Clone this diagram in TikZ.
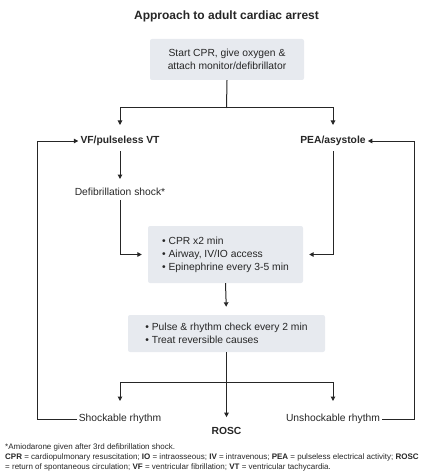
\documentclass[tikz,border=0pt]{standalone}
\usepackage{fontspec}
\setmainfont{Liberation Sans}
\usetikzlibrary{arrows.meta}
\definecolor{boxgray}{HTML}{E7EAEF}
\definecolor{inkgray}{HTML}{262626}

\begin{document}
\begin{tikzpicture}[x=1pt,y=-1pt,
	stepbox/.style={fill=boxgray, rounded corners=2pt, inner sep=0pt, text=inkgray},
	label/.style={inner sep=2pt, text=inkgray, font=\fontsize{10.3}{12}\selectfont},
	heading/.style={label, font=\bfseries\fontsize{10.3}{12}\selectfont},
	foot/.style={anchor=west, inner sep=0pt, text=inkgray, font=\fontsize{8}{9}\selectfont},
	arr/.style={-{Triangle[length=4.5pt,width=4.5pt]}, line width=1pt, draw=inkgray},
	ln/.style={line width=1pt, draw=inkgray}]
			%%%%% START %%%%%
			\def\xl{120}
			\def\xm{226.5}
			\def\xr{333}
			\def\loopl{37}
			\def\loopr{414}
			\useasboundingbox (0,0) rectangle (441,476);

			\node[heading, font=\bfseries\fontsize{12}{14}\selectfont] (title) at (\xm,16) {Approach to adult cardiac arrest};

			\node[stepbox, minimum width=154pt, minimum height=41pt, align=center,
				font=\fontsize{10.3}{12.5}\selectfont] (start) at (227,59.5)
				{Start CPR, give oxygen \&\\attach monitor/defibrillator};

			\node[heading] (vf) at (\xl,141) {VF/pulseless VT};
			\node[heading] (pea) at (\xr,141) {PEA/asystole};
			\node[label] (defib) at (\xl,192) {Defibrillation shock*};

			\node[stepbox, minimum width=155pt, minimum height=57pt, align=left,
				font=\fontsize{10.3}{13}\selectfont] (act) at (225.5,254.5)
				{\textbullet\ CPR x2 min\\\textbullet\ Airway, IV/IO access\\\textbullet\ Epinephrine every 3-5 min};

			\node[stepbox, minimum width=197pt, minimum height=37pt, align=left,
				font=\fontsize{10.3}{13.5}\selectfont] (check) at (226.5,333.5)
				{\textbullet\ Pulse \& rhythm check every 2 min\\\textbullet\ Treat reversible causes};

			\node[label] (shock) at (\xl,419) {Shockable rhythm};
			\node[label] (unshock) at (\xr,419) {Unshockable rhythm};
			\node[heading] (rosc) at (\xm,431) {ROSC};

			% start -> two rhythm groups
			\coordinate (split) at (\xm,108);
			\draw[ln] (start.south) -- (split);
			\draw[arr, shorten >=9pt] (split) -| (vf.north);
			\draw[arr, shorten >=9pt] (split) -| (pea.north);

			% shockable side
			\draw[arr, shorten <=3pt, shorten >=7pt] (vf.south) -- (defib.north);
			\draw[arr, shorten <=2pt, shorten >=6pt] (defib.south) |- (act.west);
			% unshockable side
			\draw[arr, shorten <=3pt, shorten >=6pt] (pea.south) |- (act.east);

			\draw[arr, shorten >=8pt] (act.south) -- (check.north);

			% rhythm check outcomes
			\coordinate (split2) at (\xm,382);
			\draw[arr, shorten >=8pt] (check.south) -- (rosc.north);
			\draw[arr, shorten >=11pt] (split2) -| (shock.north);
			\draw[arr, shorten >=11pt] (split2) -| (unshock.north);

			% loops back
			\draw[arr] (shock.west) -- (shock.west -| \loopl,0) -- (vf.west -| \loopl,0) -- (vf.west);
			\draw[arr] (unshock.east) -- (unshock.east -| \loopr,0) -- (pea.east -| \loopr,0) -- (pea.east);

			\node[foot] (note1) at (5,447) {*Amiodarone given after 3rd defibrillation shock.};
			\node[foot] (note2) at (5,457.5) {\textbf{CPR} = cardiopulmonary resuscitation; \textbf{IO} = intraosseous; \textbf{IV} = intravenous; \textbf{PEA} = pulseless electrical activity; \textbf{ROSC}};
			\node[foot] (note3) at (5,467) {= return of spontaneous circulation; \textbf{VF} = ventricular fibrillation; \textbf{VT} = ventricular tachycardia.};
			%%%%% END %%%%%
\end{tikzpicture}
\end{document}
